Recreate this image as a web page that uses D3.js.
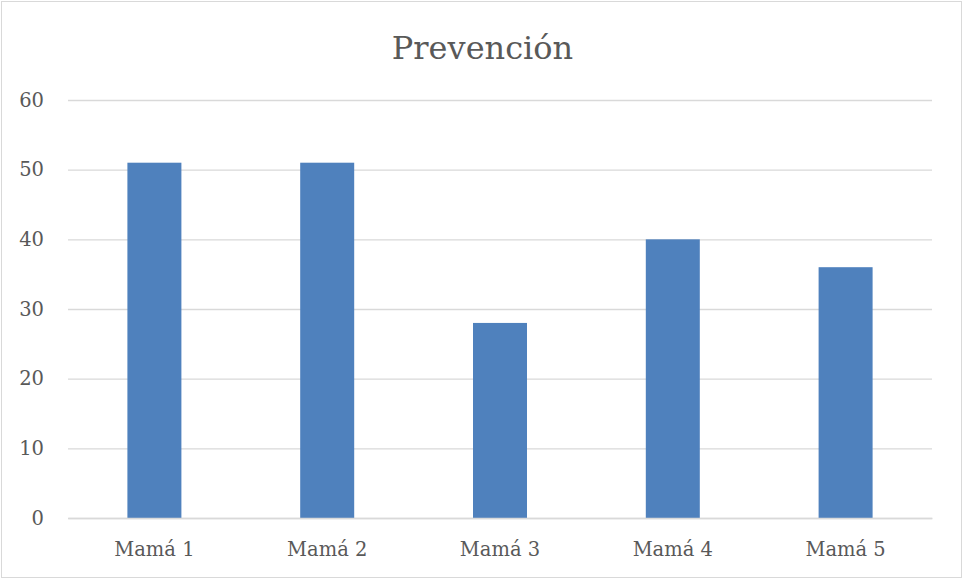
<!DOCTYPE html>
<html>
<head>
<meta charset="utf-8">
<script src="https://cdnjs.cloudflare.com/ajax/libs/d3/7.8.5/d3.min.js"></script>
<style>
  html, body { margin: 0; padding: 0; background: #fff; }
  svg { display: block; }
  text { font-family: "DejaVu Serif", "Liberation Serif", serif; fill: #595959; }
</style>
</head>
<body>
<svg id="chart" width="963" height="579"></svg>
<script>
// Chart data
const categories = ["Mamá 1", "Mamá 2", "Mamá 3", "Mamá 4", "Mamá 5"];
const values = [51, 51, 28, 40, 36];
const yTicks = [0, 10, 20, 30, 40, 50, 60];
const title = "Prevención";

const W = 963, H = 579;
const margin = { top: 100, right: 31, bottom: 61, left: 68 };

const svg = d3.select("#chart");

// outer frame
svg.append("rect")
  .attr("x", 1.5).attr("y", 1.5)
  .attr("width", W - 3).attr("height", H - 3)
  .attr("fill", "#fff").attr("stroke", "#d9d9d9").attr("stroke-width", 1);

const x = d3.scaleBand()
  .domain(categories)
  .range([margin.left, W - margin.right])
  .paddingInner(0.6875)
  .paddingOuter(0.34375);

const y = d3.scaleLinear()
  .domain([0, 60])
  .range([H - margin.bottom, margin.top]);

// gridlines + y labels
const yAxis = d3.axisLeft(y)
  .tickValues(yTicks)
  .tickSize(-(W - margin.left - margin.right))
  .tickPadding(24);

const gy = svg.append("g")
  .attr("transform", `translate(${margin.left},0)`)
  .call(yAxis);
gy.select(".domain").remove();
gy.selectAll(".tick line").attr("stroke", "#d9d9d9").attr("stroke-width", 1.3);
gy.selectAll(".tick text")
  .attr("font-size", 19.5)
  .attr("fill", "#595959")
  .style("font-family", "DejaVu Serif");

// bars
svg.append("g")
  .selectAll("rect")
  .data(values)
  .join("rect")
  .attr("x", (d, i) => x(categories[i]))
  .attr("y", d => y(d))
  .attr("width", x.bandwidth())
  .attr("height", d => y(0) - y(d))
  .attr("fill", "#4f81bd");

// category axis
const xAxis = d3.axisBottom(x).tickSize(0).tickPadding(24);
const gx = svg.append("g")
  .attr("transform", `translate(0,${H - margin.bottom})`)
  .call(xAxis);
gx.select(".domain").attr("stroke", "#d9d9d9").attr("stroke-width", 1.3);
gx.selectAll(".tick text")
  .attr("font-size", 19.5)
  .attr("fill", "#595959")
  .style("font-family", "DejaVu Serif");

// title
svg.append("text")
  .attr("x", W / 2 + 1)
  .attr("y", 59)
  .attr("text-anchor", "middle")
  .attr("font-size", 32)
  .text(title);
</script>
</body>
</html>
